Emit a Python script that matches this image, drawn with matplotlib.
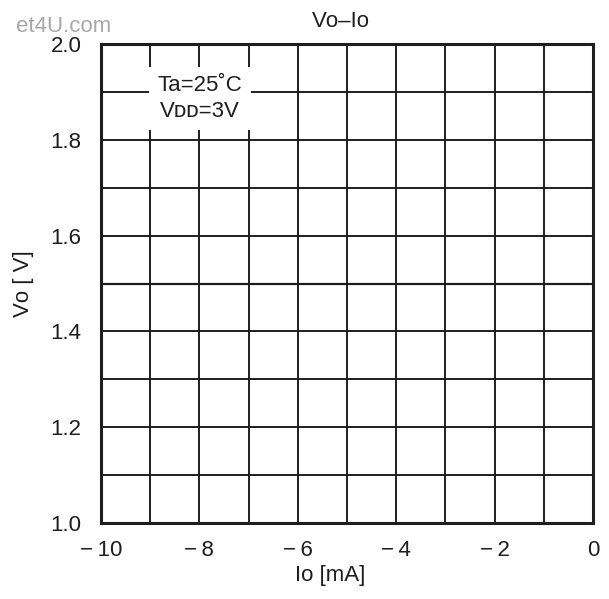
import matplotlib
matplotlib.use("Agg")
import matplotlib.pyplot as plt

plt.rcParams['font.family'] = ['Liberation Sans', 'DejaVu Sans']

# data
io_ma = [-10, -8, -6, -4, -2, 0]
vo_v = [1.5, 1.5, 1.5, 1.5, 1.5, 1.5]

x_ticks = [-10, -8, -6, -4, -2, 0]
x_tick_labels = ['\u2212\u200910', '\u2212\u20098', '\u2212\u20096', '\u2212\u20094', '\u2212\u20092', '0']
y_ticks = [1.0, 1.2, 1.4, 1.6, 1.8, 2.0]
y_tick_labels = ['1.0', '1.2', '1.4', '1.6', '1.8', '2.0']

ink = '#1e1e1e'
fs = 16

fig = plt.figure(figsize=(6.09, 5.99), dpi=100)
ax = fig.add_axes([0.1658, 0.1269, 0.8079, 0.7996])

ax.plot(io_ma, vo_v, color=ink, lw=1.6, zorder=3)

ax.set_xlim(-10, 0)
ax.set_ylim(1.0, 2.0)
ax.set_xticks(x_ticks)
ax.set_xticklabels(x_tick_labels)
ax.set_yticks(y_ticks)
ax.set_yticklabels(y_tick_labels)
ax.set_xticks(range(-10, 1), minor=True)
ax.set_yticks([1.0 + 0.1 * i for i in range(11)], minor=True)
ax.tick_params(which='both', length=0, labelsize=fs, colors=ink)
ax.tick_params(axis='x', pad=12)
ax.tick_params(axis='y', pad=14)
ax.grid(which='both', color=ink, lw=1.4)
ax.set_axisbelow(True)
for s in ax.spines.values():
    s.set_linewidth(2.2)
    s.set_color(ink)

ax.set_xlabel('I\u1d0f [mA]', fontsize=fs, color=ink, labelpad=3, x=0.465)
ax.set_ylabel('V\u1d0f [ V]', fontsize=fs, color=ink, labelpad=12)
ax.set_title('V\u1d0f\u2013I\u1d0f', fontsize=fs, color=ink, pad=12, x=0.488)

ax.text(-7.99, 1.886, 'Ta=25\u02daC\nV\u1d05\u1d05=3V', ha='center', va='center',
        fontsize=fs, color=ink, linespacing=1.3, zorder=4,
        bbox=dict(facecolor='white', edgecolor='none', pad=6))

# watermark from the scanned datasheet
fig.text(0.182, 0.947, 'et4U.com', fontsize=fs, color='#a8a8a8', ha='right', va='baseline')

fig.savefig('out.png', dpi=100)
